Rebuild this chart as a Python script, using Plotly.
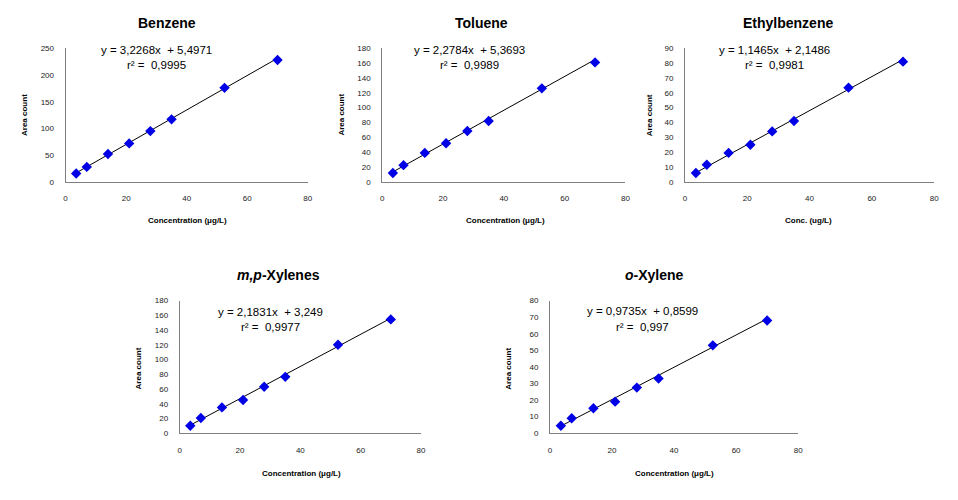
import plotly.graph_objects as go

# page body has an 8px default margin; figure fills the rest of the 958x500 window
OFF = 8
W, H = 958 - OFF, 500 - OFF

x_conc = [3.5, 7, 14, 21, 28, 35, 52.5, 70]
benzene = [15.5, 28, 52, 72, 95, 117, 176, 228]
toluene = [12, 22.5, 39, 52, 68.5, 82, 126, 161]
ethylbenzene = [6, 11.5, 19.5, 25, 34, 41, 63.5, 81]
mp_xylenes = [10, 20.5, 35, 45, 63, 76.5, 120, 154.5]
o_xylene = [4.5, 9, 15, 19, 27.5, 33, 53, 68]

titles = ["Benzene", "Toluene", "Ethylbenzene", "<i>m,p</i>-Xylenes", "<i>o</i>-Xylene"]
slopes = [3.2268, 2.2784, 1.1465, 2.1831, 0.9735]
intercepts = [5.4971, 5.3693, 2.1486, 3.249, 0.8599]
slope_txt = ["3,2268", "2,2784", "1,1465", "2,1831", "0,9735"]
icpt_txt = ["5,4971", "5,3693", "2,1486", "3,249", "0,8599"]
r2_txt = ["0,9995", "0,9989", "0,9981", "0,9977", "0,997"]
x_titles = ["Concentration (\u03bcg/L)", "Concentration (\u03bcg/L)", "Conc. (ug/L)",
            "Concentration (\u03bcg/L)", "Concentration (\u03bcg/L)"]
y_title = "Area count"
y_max = [250, 180, 90, 180, 80]
y_step = [50, 20, 10, 20, 10]
x_max = 80
x_step = 20

series = [benzene, toluene, ethylbenzene, mp_xylenes, o_xylene]

# layout (window pixel boxes) : x0, x1, ytop, ybottom
boxes = [(64, 308, 45, 181), (383, 628, 45, 181), (688, 939, 45, 181),
         (179, 422, 302, 437), (552, 802, 302, 437)]
title_pos = [(166, 19), (483, 19), (792, 19), (278, 276), (657, 276)]
eq_pos = [(156, 47, 62), (471, 47, 62), (778, 47, 62), (270, 314, 329), (645, 313, 329)]
xt_pos = [(187, 220), (507, 220), (812, 220), (302, 478), (677, 478)]
yt_pos = [(22, 113), (342, 113), (652, 113), (137, 371), (510, 371)]

fig = go.Figure()


def px(x):
    return (x - OFF) / W


def py(y):
    return 1 - (y - OFF) / H


FONT = "Liberation Sans, Arial"
annotations = []
for i, ys in enumerate(series):
    sfx = "" if i == 0 else str(i + 1)
    xa, ya = "x" + sfx, "y" + sfx
    # trendline from the regression equation
    xl = [x_conc[0], x_conc[-1]]
    yl = [slopes[i] * v + intercepts[i] for v in xl]
    fig.add_trace(go.Scatter(x=xl, y=yl, mode="lines", xaxis=xa, yaxis=ya,
                             line=dict(color="black", width=1), showlegend=False,
                             hoverinfo="skip"))
    fig.add_trace(go.Scatter(x=x_conc, y=ys, mode="markers", xaxis=xa, yaxis=ya,
                             marker=dict(symbol="diamond", size=8, color="#0000e6",
                                         line=dict(width=0)),
                             showlegend=False))
    x0, x1, yt, yb = boxes[i]
    axis_common = dict(showgrid=False, zeroline=False, showline=True,
                       linecolor="#808080", linewidth=1, ticks="",
                       tickfont=dict(family=FONT, size=8, color="#222"))
    fig.update_layout(**{
        ("xaxis" + sfx): dict(domain=[px(x0), px(x1)], range=[0, x_max], dtick=x_step,
                              tick0=0, anchor=ya, ticklabelstandoff=9, **axis_common),
        ("yaxis" + sfx): dict(domain=[py(yb), py(yt)], range=[0, y_max[i]], dtick=y_step[i],
                              tick0=0, anchor=xa, ticklabelstandoff=9, **axis_common),
    })
    tx, tyy = title_pos[i]
    annotations.append(dict(text="<b>" + titles[i] + "</b>", x=px(tx), y=py(tyy),
                            xref="paper", yref="paper", showarrow=False,
                            xanchor="center", yanchor="middle",
                            font=dict(family=FONT, size=14, color="black")))
    ex, ey1, ey2 = eq_pos[i]
    annotations.append(dict(text="y = " + slope_txt[i] + "x  + " + icpt_txt[i],
                            x=px(ex), y=py(ey1), xref="paper", yref="paper", showarrow=False,
                            xanchor="center", yanchor="middle",
                            font=dict(family=FONT, size=11.5, color="black")))
    annotations.append(dict(text="r\u00b2 =  " + r2_txt[i],
                            x=px(ex), y=py(ey2), xref="paper", yref="paper", showarrow=False,
                            xanchor="center", yanchor="middle",
                            font=dict(family=FONT, size=11.5, color="black")))
    xx, xy = xt_pos[i]
    annotations.append(dict(text="<b>" + x_titles[i] + "</b>", x=px(xx), y=py(xy),
                            xref="paper", yref="paper", showarrow=False,
                            xanchor="center", yanchor="middle",
                            font=dict(family=FONT, size=8, color="black")))
    yx, yy = yt_pos[i]
    annotations.append(dict(text="<b>" + y_title + "</b>", x=px(yx), y=py(yy),
                            xref="paper", yref="paper", showarrow=False, textangle=-90,
                            xanchor="center", yanchor="middle",
                            font=dict(family=FONT, size=8, color="black")))

fig.update_layout(width=W, height=H, margin=dict(l=0, r=0, t=0, b=0),
                  paper_bgcolor="white", plot_bgcolor="white",
                  annotations=annotations, showlegend=False)

fig.write_html("out.html")
